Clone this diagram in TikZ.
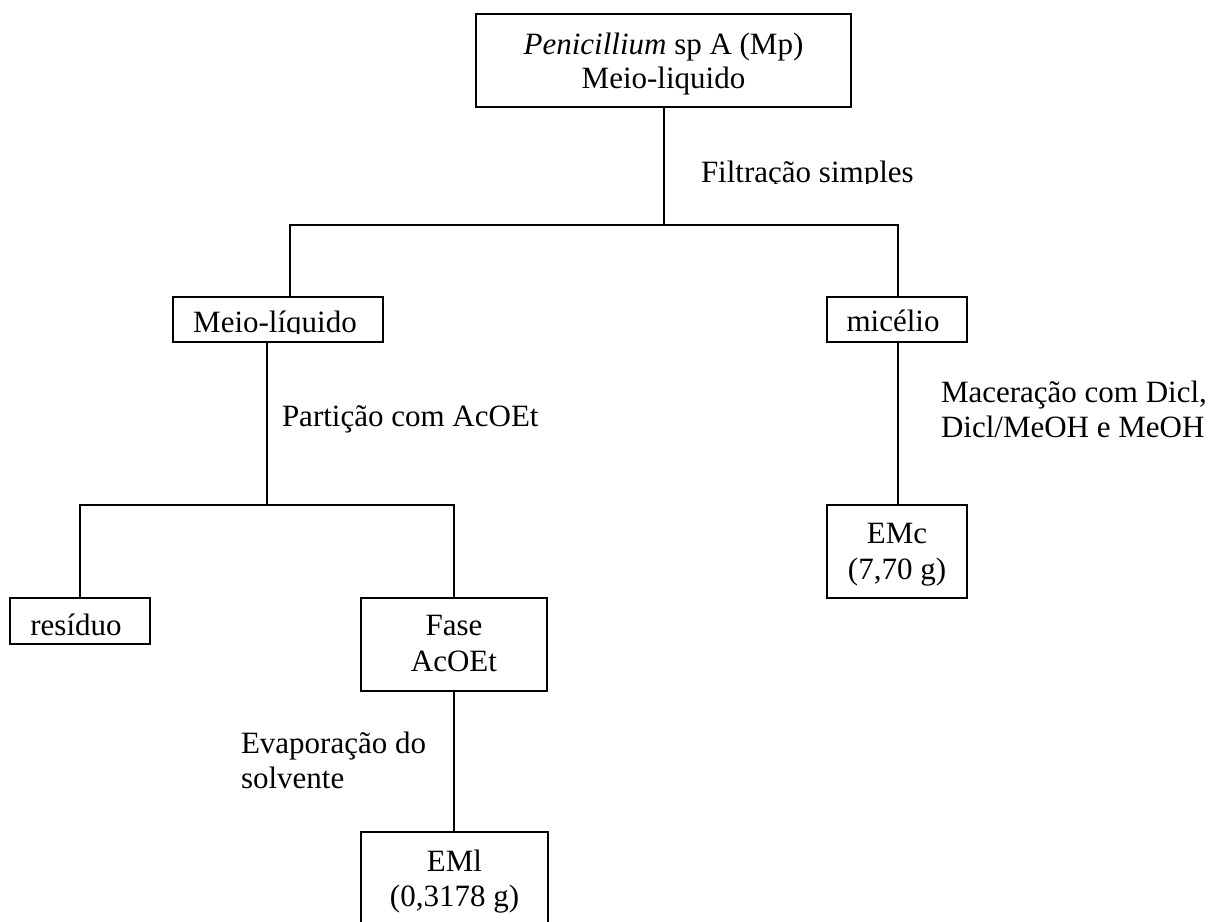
\documentclass[tikz,border=0pt]{standalone}
\usepackage{fontspec}
\setmainfont{Liberation Serif}
\begin{document}
\begin{tikzpicture}[x=1pt,y=-1pt,line width=2pt,
  box/.style={draw,rectangle,inner sep=0pt,line width=2pt},
  lbl/.style={anchor=base,inner sep=0pt,font=\fontsize{31}{35}\selectfont},
  lblw/.style={anchor=base west,inner sep=0pt,font=\fontsize{31}{35}\selectfont}]
\clip (0,0) rectangle (1210,921);
\fill[white] (0,0) rectangle (1210,921);
% boxes
\node[box,minimum width=375pt,minimum height=93pt] (top) at (663.5,60.5) {};
\node[box,minimum width=210pt,minimum height=45pt] (ML) at (278,319.5) {};
\node[box,minimum width=140pt,minimum height=45pt] (mic) at (897,319.5) {};
\node[box,minimum width=140pt,minimum height=46pt] (res) at (80,621) {};
\node[box,minimum width=186pt,minimum height=93pt] (fase) at (454,644.5) {};
\node[box,minimum width=140pt,minimum height=93pt] (emc) at (897,551.5) {};
\node[box,minimum width=187pt,minimum height=108pt] (eml) at (454.5,886) {};
% junctions
\coordinate (j1) at (664,225);
\coordinate (j1L) at (290,225);
\coordinate (j1R) at (898,225);
\coordinate (j2) at (267,505);
\coordinate (j2L) at (80,505);
\coordinate (j2R) at (454,505);
% connectors
\draw (top.south -| j1) -- (j1);
\draw (j1L |- ML.north) -- (j1L) -- (j1R) -- (j1R |- mic.north);
\draw (ML.south -| j2) -- (j2);
\draw (res.north) -- (j2L) -- (j2R) -- (fase.north);
\draw (fase.south) -- (eml.north -| fase.south);
\draw (mic.south -| j1R) -- (emc.north -| j1R);
% texts
\node[lbl] (t1) at (663.5,54) {\textit{Penicillium} sp A (Mp)};
\node[lbl] (t2) at (663.5,88) {Meio-liquido};
\begin{scope}
\clip (0,0) rectangle (1210,183);
\node[lblw] (filt) at (700,182) {Filtração simples};
\end{scope}
\begin{scope}
\clip (173,297) rectangle (383,333);
\node[lbl] (mltxt) at (275,332) {Meio-líquido};
\end{scope}
\begin{scope}
\clip (827,297) rectangle (967,332);
\node[lbl] (mictxt) at (893,331) {micélio};
\end{scope}
\begin{scope}
\clip (10,598) rectangle (150,636);
\node[lbl] (restxt) at (76,635) {resíduo};
\end{scope}
\node[lblw] (part) at (281,426) {Partição com AcOEt};
\node[lblw] (mac1) at (940,402) {Maceração com Dicl,};
\node[lblw] (mac2) at (940,437) {Dicl/MeOH e MeOH};
\node[lbl] (f1) at (454,635) {Fase};
\node[lbl] (f2) at (454,671) {AcOEt};
\node[lblw] (ev1) at (240,753) {Evaporação do};
\node[lblw] (ev2) at (240,788) {solvente};
\node[lbl] (c1) at (897,543) {EMc};
\node[lbl] (c2) at (897,579) {(7,70 g)};
\node[lbl] (l1) at (454.5,871) {EMl};
\node[lbl] (l2) at (454.5,906) {(0,3178 g)};
\end{tikzpicture}
\end{document}
